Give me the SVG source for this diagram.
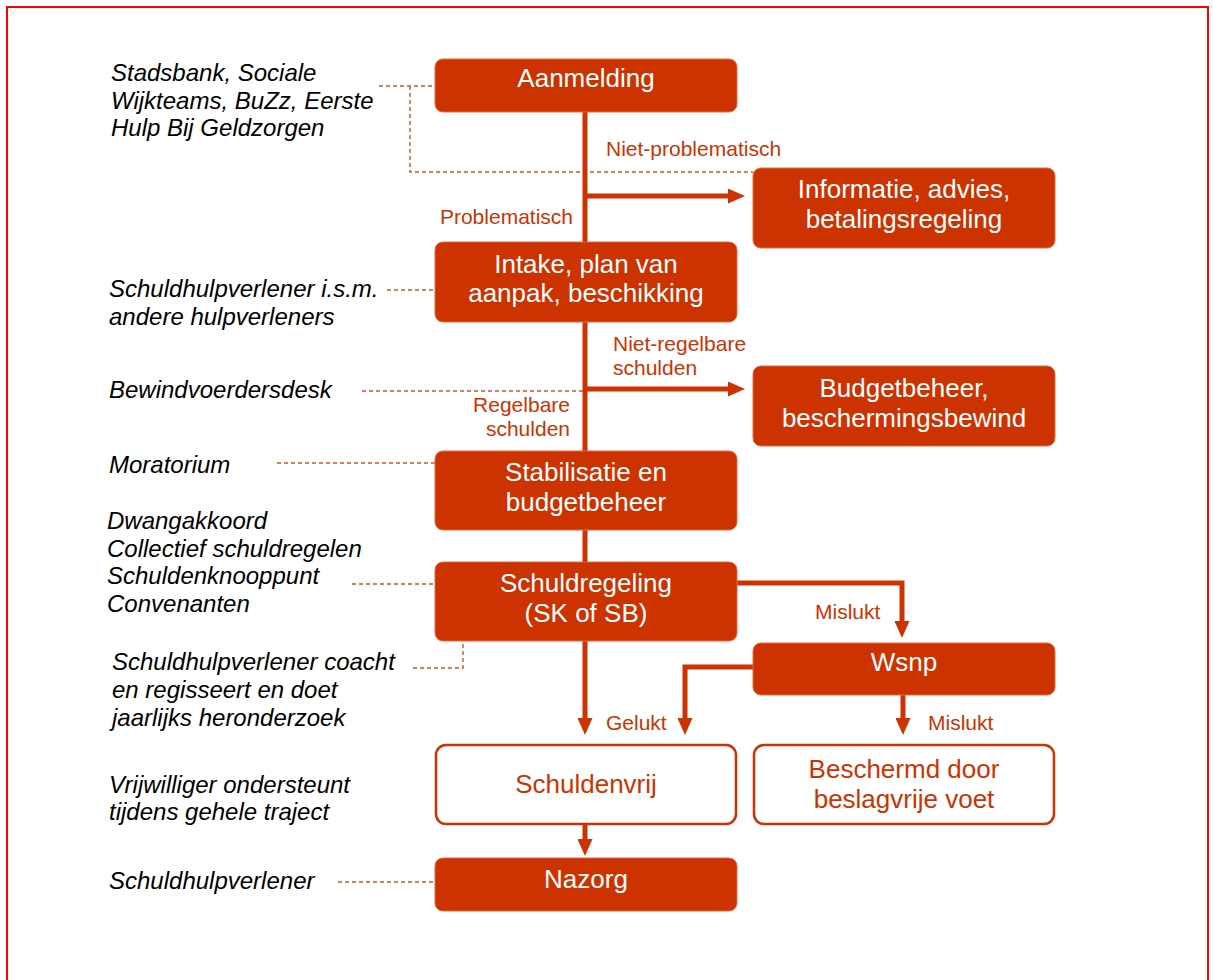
<svg xmlns="http://www.w3.org/2000/svg" width="1213" height="980" viewBox="0 0 1213 980">
<style>
.box{fill:#CC3300;stroke:#E06A40;stroke-width:1}
.wbox{fill:#FFFFFF;stroke:#CC3300;stroke-width:2.5}
.bt{font-family:"Liberation Sans",Arial,sans-serif;font-size:26px;fill:#FFFFFF;text-anchor:middle}
.wt{font-family:"Liberation Sans",Arial,sans-serif;font-size:26px;fill:#CC3300;text-anchor:middle}
.side{font-family:"Liberation Sans",Arial,sans-serif;font-size:24px;font-style:italic;fill:#000000}
.lbl{font-family:"Liberation Sans",Arial,sans-serif;font-size:21px;fill:#CC3300}
.conn{fill:none;stroke:#CC3300;stroke-width:5;marker-end:url(#ah)}
.line{fill:none;stroke:#CC3300;stroke-width:5}
.dash{fill:none;stroke:#D9501F;stroke-width:1.4;stroke-dasharray:4 3}
</style>
<defs>
<marker id="ah" markerUnits="userSpaceOnUse" markerWidth="17" markerHeight="15" refX="0" refY="7.5" orient="auto">
<path d="M0,0 L17,7.5 L0,15 z" fill="#CC3300"/>
</marker>
</defs>
<rect x="7" y="7" width="1201" height="1000" fill="#FFFFFF" stroke="#FF0000" stroke-width="2"/>

<g id="dashes">
<path class="dash" d="M379,86 H435 M410,86 V172 H753"/>
<path class="dash" d="M387,290 H435"/>
<path class="dash" d="M362,391 H583"/>
<path class="dash" d="M277,463 H435"/>
<path class="dash" d="M352,584 H435"/>
<path class="dash" d="M413,668 H463 V641"/>
<path class="dash" d="M338,882 H435"/>
</g>

<g id="connectors">
<path class="line" d="M585,112 V242"/>
<path class="conn" d="M585,196 H728"/>
<path class="line" d="M585,322 V451"/>
<path class="conn" d="M585,389 H728"/>
<path class="line" d="M585,530 V562"/>
<path class="conn" d="M585,641 V718"/>
<path class="conn" d="M737,583 H902 V621"/>
<path class="conn" d="M753,667 H685 V718"/>
<path class="conn" d="M903,695 V718"/>
<path class="conn" d="M585,824 V839"/>
</g>

<g id="labels">
<text class="lbl" x="606" y="156">Niet-problematisch</text>
<text class="lbl" x="573" y="224" text-anchor="end">Problematisch</text>
<text class="lbl" x="613" y="351">Niet-regelbare</text>
<text class="lbl" x="613" y="375">schulden</text>
<text class="lbl" x="570" y="412" text-anchor="end">Regelbare</text>
<text class="lbl" x="570" y="436" text-anchor="end">schulden</text>
<text class="lbl" x="815" y="619">Mislukt</text>
<text class="lbl" x="606" y="730">Gelukt</text>
<text class="lbl" x="928" y="730">Mislukt</text>
</g>

<g id="side-texts">
<text class="side" x="111" y="81">Stadsbank, Sociale</text>
<text class="side" x="111" y="109">Wijkteams, BuZz, Eerste</text>
<text class="side" x="111" y="136">Hulp Bij Geldzorgen</text>
<text class="side" x="109" y="297">Schuldhulpverlener i.s.m.</text>
<text class="side" x="109" y="325">andere hulpverleners</text>
<text class="side" x="109" y="398">Bewindvoerdersdesk</text>
<text class="side" x="109" y="473">Moratorium</text>
<text class="side" x="107" y="529">Dwangakkoord</text>
<text class="side" x="107" y="557">Collectief schuldregelen</text>
<text class="side" x="107" y="584">Schuldenknooppunt</text>
<text class="side" x="107" y="612">Convenanten</text>
<text class="side" x="112" y="670">Schuldhulpverlener coacht</text>
<text class="side" x="112" y="698">en regisseert en doet</text>
<text class="side" x="112" y="726">jaarlijks heronderzoek</text>
<text class="side" x="109" y="793">Vrijwilliger ondersteunt</text>
<text class="side" x="109" y="820">tijdens gehele traject</text>
<text class="side" x="109" y="889">Schuldhulpverlener</text>
</g>

<g id="aanmelding">
<rect class="box" x="435" y="59" width="302" height="53" rx="8"/>
<text class="bt" x="586" y="87">Aanmelding</text>
</g>
<g id="informatie">
<rect class="box" x="753" y="168" width="302" height="80" rx="8"/>
<text class="bt" x="904" y="198">Informatie, advies,</text>
<text class="bt" x="904" y="228">betalingsregeling</text>
</g>
<g id="intake">
<rect class="box" x="435" y="242" width="302" height="80" rx="8"/>
<text class="bt" x="586" y="273">Intake, plan van</text>
<text class="bt" x="586" y="302">aanpak, beschikking</text>
</g>
<g id="budgetbeheer">
<rect class="box" x="753" y="366" width="302" height="80" rx="8"/>
<text class="bt" x="904" y="397">Budgetbeheer,</text>
<text class="bt" x="904" y="427">beschermingsbewind</text>
</g>
<g id="stabilisatie">
<rect class="box" x="435" y="451" width="302" height="79" rx="8"/>
<text class="bt" x="586" y="481">Stabilisatie en</text>
<text class="bt" x="586" y="511">budgetbeheer</text>
</g>
<g id="schuldregeling">
<rect class="box" x="435" y="562" width="302" height="79" rx="8"/>
<text class="bt" x="586" y="592">Schuldregeling</text>
<text class="bt" x="586" y="622">(SK of SB)</text>
</g>
<g id="wsnp">
<rect class="box" x="753" y="643" width="302" height="52" rx="8"/>
<text class="bt" x="904" y="671">Wsnp</text>
</g>
<g id="schuldenvrij">
<rect class="wbox" x="436" y="745" width="300" height="79" rx="10"/>
<text class="wt" x="586" y="793">Schuldenvrij</text>
</g>
<g id="beschermd">
<rect class="wbox" x="754" y="745" width="300" height="79" rx="10"/>
<text class="wt" x="904" y="778">Beschermd door</text>
<text class="wt" x="904" y="808">beslagvrije voet</text>
</g>
<g id="nazorg">
<rect class="box" x="435" y="858" width="302" height="53" rx="8"/>
<text class="bt" x="586" y="888">Nazorg</text>
</g>
</svg>
